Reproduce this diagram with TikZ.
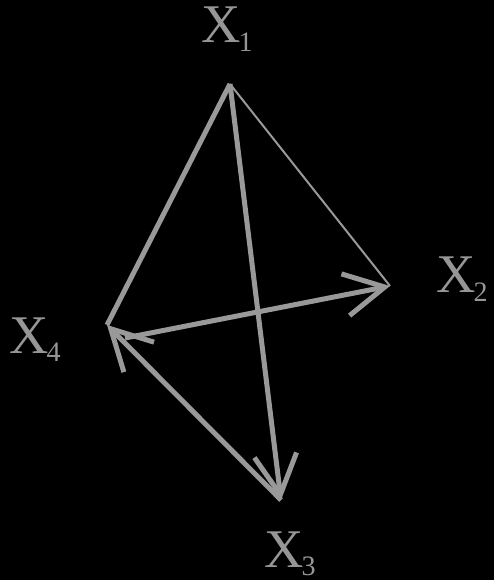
\documentclass[tikz,border=0pt]{standalone}
\usepackage{fontspec}
\setmainfont{Liberation Serif}
\usetikzlibrary{arrows.meta}
\usetikzlibrary{positioning}

\definecolor{edgegray}{RGB}{153,153,153}
\definecolor{labelgray}{RGB}{150,150,150}

\newcommand{\vlabel}[1]{X\kern-0.04em\raisebox{-0.15em}{\fontsize{16}{16}\selectfont #1}}

\begin{document}
\begin{tikzpicture}[x=0.02cm, y=-0.02cm,
    edge/.style={draw=edgegray, line width=0.1cm},
    thinedge/.style={draw=edgegray, line width=0.04cm},
    barb/.style={-{Straight Barb[length=0.8cm, width=0.85cm, line width=0.1cm]}},
    vname/.style={text=labelgray, anchor=base west, inner sep=0pt, font=\fontsize{31}{31}\selectfont}]

      \fill[black] (0,0) rectangle (494,580);
      \useasboundingbox (0,0) rectangle (494,580);

      % corners of the quadrilateral
      \coordinate (x1) at (230,84);
      \coordinate (x2) at (390,286);
      \coordinate (x3) at (281,500);
      \coordinate (x4) at (107,325);
      \coordinate (x4s) at (125,338); % start of the arrow to X2

      \node[vname] (l1) at (201,43) {\vlabel{1}};
      \node[vname] (l2) at (436,293) {\vlabel{2}};
      \node[vname] (l3) at (264,567) {\vlabel{3}};
      \node[vname] (l4) at (9,353) {\vlabel{4}};

      \draw[thinedge] (x1) -- (x2);
      \draw[edge] (x1) -- (x4);
      \draw[edge, barb] (x1) -- (x3);
      \draw[edge, barb] (x3) -- (x4);
      \draw[edge, barb] (x4s) -- (x2);

    \end{tikzpicture}
\end{document}
